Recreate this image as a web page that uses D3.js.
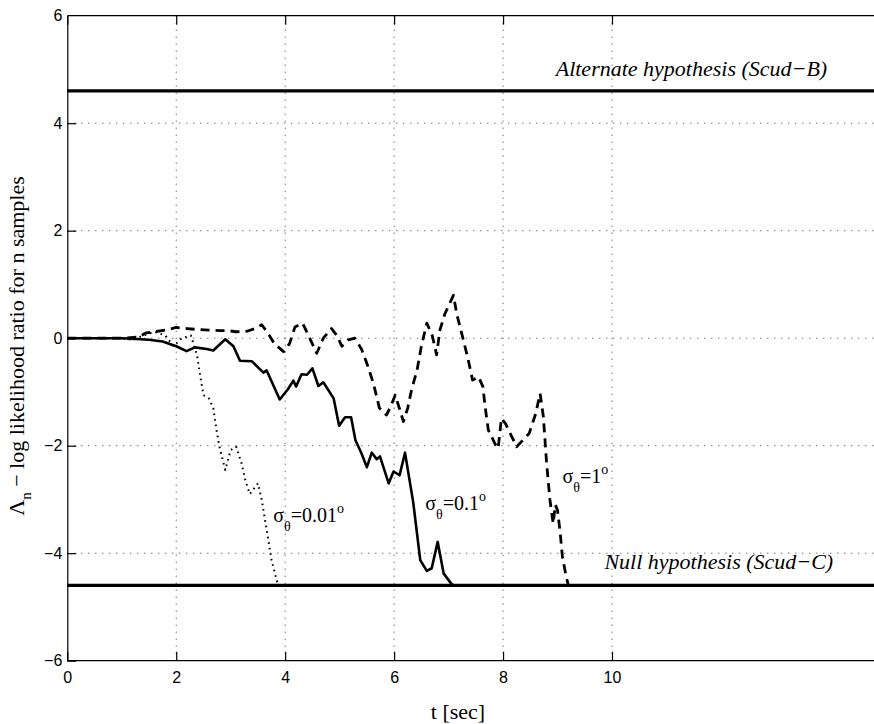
<!DOCTYPE html>
<html>
<head>
<meta charset="utf-8">
<script src="https://cdn.jsdelivr.net/npm/d3@7"></script>
<style>
	body { margin: 0; background: #fff; }
	svg { display: block; }
	.tick text { font-family: "Liberation Sans", Arial, sans-serif; font-size: 16px; fill: #000; }
	.serif { font-family: "Liberation Serif", "Times New Roman", serif; fill: #000; }
</style>
</head>
<body>
<div id="chart"></div>
<script>
// Tick values
var xTicks = [0, 2, 4, 6, 8, 10];
var yTicks = [-6, -4, -2, 0, 2, 4, 6];
var xGrid = [2, 4, 6, 8, 10];
var yGrid = [-4, -2, 0, 2, 4];

// Decision thresholds (log of 100)
var upperThreshold = 4.6;
var lowerThreshold = -4.6;

// sigma = 0.01 deg (dotted)
var seriesFine = [
	[0, 0], [1.0, 0], [1.2, -0.03], [1.4, 0.05], [1.6, 0.12], [1.8, 0.05], [1.95, -0.15],
	[2.1, 0.0], [2.27, 0.05], [2.38, -0.31], [2.44, -0.7], [2.5, -1.06], [2.6, -1.12],
	[2.68, -1.3], [2.74, -1.71], [2.8, -2.05], [2.9, -2.45], [3.0, -2.08], [3.1, -2.02],
	[3.2, -2.33], [3.27, -2.65], [3.35, -2.9], [3.5, -2.7], [3.57, -3.01], [3.63, -3.38],
	[3.69, -3.75], [3.75, -4.13], [3.81, -4.37], [3.87, -4.6]
];

// sigma = 0.1 deg (solid)
var seriesMid = [
	[0, 0], [0.5, 0], [1.0, 0], [1.5, -0.03], [1.75, -0.06], [2.0, -0.15], [2.19, -0.24],
	[2.34, -0.17], [2.56, -0.2], [2.68, -0.23], [2.9, -0.02], [3.05, -0.15], [3.17, -0.42],
	[3.39, -0.43], [3.6, -0.64], [3.66, -0.6], [3.9, -1.14], [4.05, -0.95], [4.15, -0.79],
	[4.2, -0.9], [4.3, -0.67], [4.4, -0.68], [4.5, -0.56], [4.61, -0.89], [4.7, -0.82],
	[4.89, -1.12], [4.99, -1.63], [5.1, -1.47], [5.21, -1.47], [5.29, -1.9], [5.4, -2.14],
	[5.5, -2.4], [5.59, -2.13], [5.68, -2.25], [5.74, -2.2], [5.9, -2.7], [5.99, -2.48],
	[6.1, -2.55], [6.2, -2.13], [6.35, -3.05], [6.48, -4.13], [6.6, -4.33], [6.69, -4.28],
	[6.8, -3.79], [6.91, -4.38], [7.06, -4.58], [7.1, -4.6]
];

// sigma = 1 deg (dashed)
var seriesCoarse = [
	[0, 0], [1.0, 0], [1.3, 0.02], [1.45, 0.1], [1.6, 0.12], [1.8, 0.15], [2.0, 0.2],
	[2.2, 0.18], [2.4, 0.16], [2.6, 0.15], [2.8, 0.14], [2.95, 0.14], [3.1, 0.12], [3.3, 0.13],
	[3.45, 0.18], [3.57, 0.25], [3.68, 0.1], [3.8, -0.1], [3.97, -0.25], [4.08, -0.1],
	[4.18, 0.21], [4.32, 0.28], [4.45, 0.0], [4.58, -0.28], [4.7, 0.0], [4.85, 0.18],
	[4.95, 0.05], [5.04, -0.15], [5.16, -0.03], [5.28, 0.0], [5.4, -0.2], [5.5, -0.47],
	[5.62, -0.84], [5.73, -1.3], [5.86, -1.43], [5.94, -1.26], [6.02, -1.06], [6.08, -1.25],
	[6.17, -1.55], [6.25, -1.3], [6.32, -0.96], [6.42, -0.6], [6.5, -0.15], [6.6, 0.28],
	[6.7, 0.05], [6.78, -0.31], [6.84, 0.15], [6.93, 0.45], [7.09, 0.8], [7.15, 0.45],
	[7.27, -0.03], [7.36, -0.4], [7.44, -0.78], [7.55, -0.72], [7.63, -0.9], [7.67, -1.27],
	[7.73, -1.71], [7.85, -1.96], [7.91, -2.05], [7.97, -1.49], [8.05, -1.6], [8.25, -2.02],
	[8.48, -1.77], [8.6, -1.4], [8.68, -1.03], [8.74, -1.46], [8.8, -2.33], [8.86, -3.0],
	[8.92, -3.45], [8.96, -3.1], [9.0, -3.2], [9.05, -3.63], [9.09, -4.07], [9.16, -4.44],
	[9.2, -4.6]
];

// Curve labels, placed in data units
var curveLabels = [
	{ x: 3.78, y: -3.42, value: "0.01" },
	{ x: 6.57, y: -3.2, value: "0.1" },
	{ x: 9.09, y: -2.69, value: "1" }
];
var hypothesisLabels = [
	{ x: 13.95, y: 4.88, text: "Alternate hypothesis (Scud\u2212B)" },
	{ x: 14.06, y: -4.29, text: "Null hypothesis (Scud\u2212C)" }
];

var width = 874, height = 724;
var margin = {top: 15.7, left: 67.3, bottom: 63.3};
var xMax = 15;

var xScale = d3.scaleLinear().domain([0, 10]).range([margin.left, 612]);
var yScale = d3.scaleLinear().domain([-6, 6]).range([height - margin.bottom, margin.top]);

var svg = d3.select("#chart").append("svg")
		.attr("width", width)
		.attr("height", height);

// Grid
var grid = svg.append("g").attr("class", "grid")
		.attr("stroke", "#333")
		.attr("stroke-width", 1)
		.attr("stroke-dasharray", "1,6");

grid.selectAll(".vgrid")
	.data(xGrid)
	.enter().append("line")
		.attr("x1", function(d) { return xScale(d); })
		.attr("x2", function(d) { return xScale(d); })
		.attr("y1", yScale(6))
		.attr("y2", yScale(-6));

grid.selectAll(".hgrid")
	.data(yGrid)
	.enter().append("line")
		.attr("x1", xScale(0))
		.attr("x2", xScale(xMax))
		.attr("y1", function(d) { return yScale(d); })
		.attr("y2", function(d) { return yScale(d); });

// Axes (ticks point inward)
var xAxis = d3.axisBottom(xScale).tickValues(xTicks).tickSizeInner(-9).tickSizeOuter(0).tickPadding(11)
		.tickFormat(d3.format("d"));
var xAxisTop = d3.axisTop(xScale).tickValues(xTicks).tickSizeInner(-9).tickSizeOuter(0).tickFormat("");
var yAxis = d3.axisLeft(yScale).tickValues(yTicks).tickSizeInner(-9).tickSizeOuter(0).tickPadding(5)
		.tickFormat(d3.format("d"));

svg.append("g")
		.attr("class", "x axis")
		.attr("transform", "translate(0," + yScale(-6) + ")")
		.call(xAxis);

svg.append("g")
		.attr("class", "x axis top")
		.attr("transform", "translate(0," + yScale(6) + ")")
		.call(xAxisTop);

svg.append("g")
		.attr("class", "y axis")
		.attr("transform", "translate(" + xScale(0) + ",0)")
		.call(yAxis);

// stretch the frame lines to the right edge
svg.selectAll(".x.axis .domain")
		.attr("d", "M" + xScale(0) + ",0H" + xScale(xMax));
svg.selectAll(".axis .domain, .axis .tick line")
		.attr("stroke", "#000")
		.attr("stroke-width", 1.2);
svg.selectAll(".y.axis .tick:first-child line, .y.axis .tick:last-child line").remove();
svg.selectAll(".x.axis .tick:first-child line").remove();

// Thresholds
svg.selectAll(".threshold")
	.data([upperThreshold, lowerThreshold])
	.enter().append("line")
		.attr("class", "threshold")
		.attr("x1", xScale(0))
		.attr("x2", xScale(xMax))
		.attr("y1", function(d) { return yScale(d); })
		.attr("y2", function(d) { return yScale(d); })
		.attr("stroke", "#000")
		.attr("stroke-width", 3.2);

// Curves
var line = d3.line()
		.x(function(d) { return xScale(d[0]); })
		.y(function(d) { return yScale(d[1]); });

var curves = [
	{ values: seriesFine, dash: "1.6,4", width: 2 },
	{ values: seriesMid, dash: null, width: 2.6 },
	{ values: seriesCoarse, dash: "9,6", width: 2.8 }
];

svg.selectAll(".curve")
	.data(curves)
	.enter().append("path")
		.attr("class", "curve")
		.attr("d", function(d) { return line(d.values); })
		.attr("fill", "none")
		.attr("stroke", "#000")
		.attr("stroke-width", function(d) { return d.width; })
		.attr("stroke-dasharray", function(d) { return d.dash; })
		.attr("stroke-linejoin", "round");

// Curve labels: sigma_theta = value degrees
var lab = svg.selectAll(".curve-label")
	.data(curveLabels)
	.enter().append("text")
		.attr("class", "curve-label serif")
		.attr("x", function(d) { return xScale(d.x); })
		.attr("y", function(d) { return yScale(d.y); })
		.style("font-size", "20px");
lab.append("tspan").text("\u03c3");
lab.append("tspan").attr("dy", 9).style("font-size", "14px").text("\u03b8");
lab.append("tspan").attr("dy", -9).text(function(d) { return "=" + d.value; });
lab.append("tspan").attr("dy", -9).style("font-size", "14px").text("o");

// Hypothesis labels
svg.selectAll(".hyp-label")
	.data(hypothesisLabels)
	.enter().append("text")
		.attr("class", "hyp-label serif")
		.attr("x", function(d) { return xScale(d.x); })
		.attr("y", function(d) { return yScale(d.y); })
		.attr("text-anchor", "end")
		.style("font-style", "italic")
		.style("font-size", "22px")
		.text(function(d) { return d.text; });

// Axis titles
svg.append("text")
		.attr("class", "serif")
		.attr("x", 458)
		.attr("y", 719)
		.attr("text-anchor", "middle")
		.style("font-size", "22px")
		.text("t [sec]");

var yTitle = svg.append("text")
		.attr("class", "serif")
		.attr("transform", "translate(24,346) rotate(-90)")
		.attr("text-anchor", "middle")
		.style("font-size", "22px");
yTitle.append("tspan").text("\u039b");
yTitle.append("tspan").attr("dy", 7).style("font-size", "15px").text("n");
yTitle.append("tspan").attr("dy", -7).text(" \u2212 log likelihood ratio for n samples");
</script>
</body>
</html>
